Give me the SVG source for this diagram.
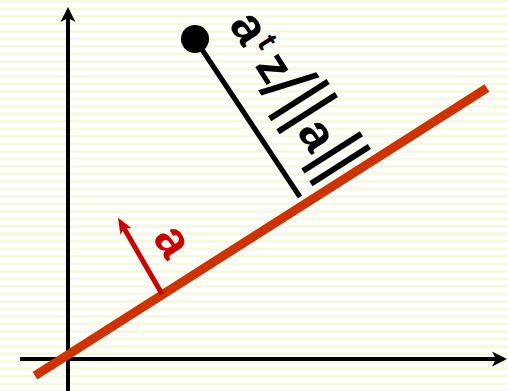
<svg xmlns="http://www.w3.org/2000/svg" width="508" height="391" viewBox="0 0 508 391">
  <defs>
    <pattern id="stripes" patternUnits="userSpaceOnUse" width="8" height="7.5">
      <rect x="0" y="0" width="8" height="3" fill="#f6f8e2"/>
    </pattern>
    <marker id="axisHead" markerUnits="userSpaceOnUse" viewBox="-16 -9 17 18" markerWidth="17" markerHeight="18" refX="-10" refY="0" orient="auto">
      <path d="M0,0 L-15,-7.5 L-11,0 L-15,7.5 Z" fill="#000"/>
    </marker>
    <marker id="redHead" markerUnits="userSpaceOnUse" viewBox="-17 -8 18 16" markerWidth="18" markerHeight="16" refX="-10" refY="0" orient="auto">
      <path d="M0,0 L-16,-6.5 L-12,0 L-16,6.5 Z" fill="#cc0000"/>
    </marker>
  </defs>
  <style>
    .axis { stroke: #000; stroke-width: 4; fill: none; }
    .plane { stroke: #cc3300; stroke-width: 9; fill: none; }
    .dist { stroke: #000; stroke-width: 5; fill: none; }
    .normal { stroke: #cc0000; stroke-width: 5; fill: none; }
    .lbl { font-family: "Liberation Sans", Arial, sans-serif; }
    .b { font-weight: bold; font-size: 50px; }
    .bar { font-weight: normal; font-size: 74px; }
  </style>
  <rect x="0" y="0" width="508" height="391" fill="#ffffff"/>
  <rect x="0" y="0" width="508" height="391" fill="url(#stripes)"/>

  <g id="connectors">
    <line id="y-axis" class="axis" x1="68" y1="391" x2="68" y2="17" marker-end="url(#axisHead)"/>
    <line id="x-axis" class="axis" x1="20" y1="359" x2="497" y2="359" marker-end="url(#axisHead)"/>
    <line id="hyperplane" class="plane" x1="35" y1="375.8" x2="487" y2="88"/>
    <line id="distance" class="dist" x1="195" y1="39" x2="300" y2="197"/>
    <line id="normal-vector" class="normal" x1="162" y1="294" x2="123" y2="226.4" marker-end="url(#redHead)"/>
  </g>

  <g id="point-z">
    <circle cx="195" cy="39" r="14" fill="#000"/>
  </g>

  <g id="label-distance" transform="translate(300,100) rotate(57.5)">
    <text class="lbl" fill="#000"><tspan class="b" x="-102.3" y="20">a</tspan><tspan font-weight="bold" font-size="30" x="-71.7" y="5.8">t</tspan><tspan class="b" x="-53.6" y="20">z</tspan><tspan font-size="80" x="-30.9" y="29.3">/</tspan><tspan class="bar" x="-10 5.4" y="20">||</tspan><tspan class="b" x="24.5" y="20">a</tspan><tspan class="bar" x="51.9 66.9" y="20">||</tspan></text>
  </g>

  <g id="label-a" transform="translate(170.5,242.5) rotate(57.5)">
    <text class="lbl b" fill="#cc0000" text-anchor="middle" x="0" y="13">a</text>
  </g>
</svg>
